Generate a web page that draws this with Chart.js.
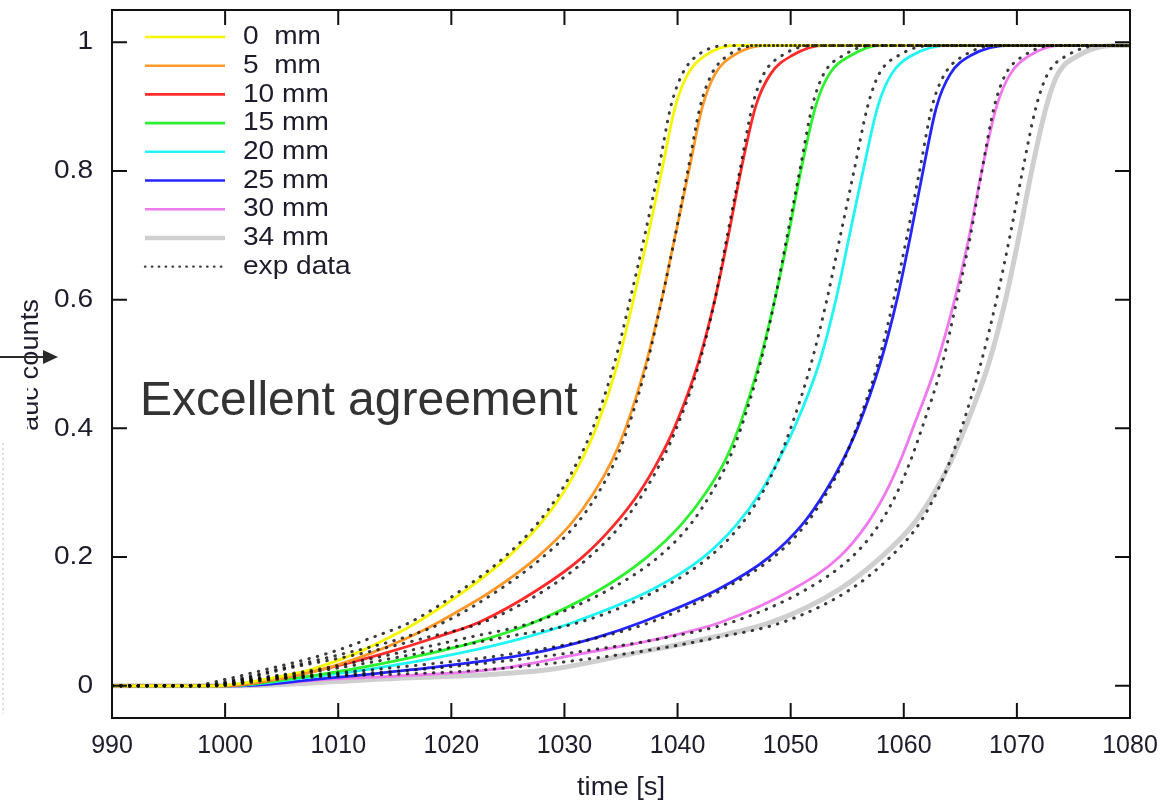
<!DOCTYPE html>
<html>
<head>
<meta charset="utf-8">
<script src="https://cdn.jsdelivr.net/npm/chart.js@4.4.0/dist/chart.umd.min.js"></script>
<style>
html,body{margin:0;padding:0;background:#fff;}
#wrap{width:1176px;height:804px;}
</style>
</head>
<body>
<div id="wrap"><canvas id="myChart" width="1176" height="804"></canvas></div>
<script>
// levels (auc counts) and the time [s] where each curve crosses them
const niveles = [0,0,0.01,0.025,0.05,0.075,0.1,0.15,0.2,0.25,0.3,0.35,0.4,0.5,0.6,0.7,0.8,0.9,0.95,0.98,0.995,0.995]

const etiquetas = ['0  mm','5  mm','10 mm','15 mm','20 mm','25 mm','30 mm','34 mm']
const colores   = ['#f6f600','#ff9a2a','#ff2b2b','#2ef02e','#22f4f4','#2424ff','#ee7aee','#cfcfcf']

// model curves
const t0  = [990, 999,  1003.5,1007.5,1011.5,1014.5,1017.1,1021.4,1025.0,1027.8,1029.9,1031.5,1032.8,1034.7,1036.1,1037.4,1038.6,1039.8,1040.9,1042.5,1045.3,1080]
const t5  = [990, 999.5,1004.5,1008.5,1012.8,1016.2,1019.0,1023.8,1027.6,1030.5,1032.6,1034.2,1035.4,1037.2,1038.6,1039.8,1041.0,1042.2,1043.3,1045.0,1048.0,1080]
const t10 = [990,1000,  1004.5,1008.5,1014,  1018.6,1022.6,1027.7,1031.6,1034.4,1036.6,1038.3,1039.7,1041.8,1043.3,1044.5,1045.6,1046.9,1048.2,1050.2,1053.0,1080]
const t15 = [990,1000,  1005.5,1011,  1018,  1023.5,1027.5,1033.2,1037.3,1040.3,1042.5,1044.2,1045.4,1047.2,1048.6,1049.8,1050.9,1052.2,1053.4,1055.4,1058.0,1080]
const t20 = [990,1000.5,1006,  1012.5,1020.5,1026.5,1031.0,1037.8,1042.3,1045.2,1047.3,1048.9,1050.3,1052.5,1054.0,1055.2,1056.4,1057.7,1058.9,1060.8,1064.0,1080]
const t25 = [990,1001,  1008,  1016.5,1027.0,1032.8,1037.0,1043.6,1048.1,1051.0,1053.0,1054.6,1055.9,1057.9,1059.4,1060.6,1061.7,1062.9,1064.1,1066.0,1069.5,1080]
const t30 = [990,1001,  1009,  1023.5,1031.5,1038.8,1044.0,1050.2,1054.3,1056.7,1058.4,1059.7,1060.8,1062.9,1064.5,1065.8,1066.9,1068.2,1069.4,1071.2,1074.0,1080]
const t34 = [990,1001,  1013,  1028.5,1036.0,1043.0,1048.5,1054.3,1058.0,1060.8,1062.7,1064.2,1065.4,1067.5,1069.0,1070.2,1071.3,1072.6,1073.6,1075.5,1078.5,1080]

// measured (exp data)
const e0  = [990, 997,  1000,  1003.5,1009,  1013,  1016.5,1021.0,1024.7,1027.5,1029.6,1031.2,1032.5,1034.4,1035.8,1037.1,1038.3,1039.4,1040.4,1041.8,1044.5,1080]
const e5  = [990, 997.5,1001,  1004.5,1010.5,1015.8,1019.5,1024.3,1028.1,1031.0,1033.0,1034.5,1035.6,1037.3,1038.6,1039.8,1040.9,1042.0,1043.0,1044.5,1047.2,1080]
const e10 = [990, 998,  1001.5,1005,  1012,  1017.8,1023.0,1028.4,1032.2,1035.0,1037.0,1038.6,1039.9,1041.9,1043.3,1044.4,1045.5,1046.6,1047.6,1049.3,1052.0,1080]
const e15 = [990, 998,  1002,  1008,  1015,  1021.5,1027.5,1034.0,1038.3,1041.1,1043.0,1044.5,1045.6,1047.3,1048.6,1049.7,1050.8,1051.9,1052.9,1054.7,1057.2,1080]
const e20 = [990, 998.5,1002.5,1009,  1017,  1024.5,1031.6,1038.4,1042.8,1045.6,1047.5,1048.9,1050.0,1051.8,1053.2,1054.4,1055.6,1056.8,1057.8,1059.6,1062.5,1080]
const e25 = [990, 998.5,1003,  1013,  1025.5,1033,  1037.8,1044.0,1048.5,1051.3,1053.2,1054.7,1055.8,1057.7,1059.1,1060.3,1061.4,1062.5,1063.6,1065.4,1068.2,1080]
const e30 = [990, 999,  1003.5,1017,  1030,  1039,  1045.0,1051.4,1055.4,1057.8,1059.4,1060.6,1061.6,1063.4,1064.7,1065.9,1066.9,1068.0,1069.0,1070.7,1073.2,1080]
const e34 = [990, 999,  1004.5,1023,  1035.5,1043.5,1049.5,1055.3,1058.8,1061.3,1062.9,1064.1,1065.1,1066.8,1068.2,1069.4,1070.5,1071.7,1072.7,1074.5,1077.5,1080]

const xTicks = [990,1000,1010,1020,1030,1040,1050,1060,1070,1080]
const yTicks = [0,0.2,0.4,0.6,0.8,1]
const yTickLabels = ['0','0.2','0.4','0.6','0.8','1']

const modelos = [t0,t5,t10,t15,t20,t25,t30,t34]
const medidos = [e0,e5,e10,e15,e20,e25,e30,e34]

const puntos = (ts) => niveles.map((v,i) => ({x:ts[i], y:v}))

let datasets = []
modelos.forEach((ts,i)=>{
    datasets.push({label:etiquetas[i], data:puntos(ts), borderColor:colores[i],
        borderWidth: i==7 ? 5 : 2.8, pointRadius:0, cubicInterpolationMode:'monotone', order:2})
})
medidos.forEach((ts,i)=>{
    datasets.push({label:'exp data', data:puntos(ts), borderColor:'rgba(10,10,10,0.8)', borderWidth:3,
        borderDash:[0.5,8.2], borderCapStyle:'round', pointRadius:0, cubicInterpolationMode:'monotone', order:1})
})

const tinta = '#1c1c2a'

function texto(ctx, s, x, y, size, align, sx){
    ctx.save()
    ctx.translate(x,y)
    ctx.scale(sx,1)
    ctx.font = size+'px "Liberation Sans", Arial, sans-serif'
    ctx.textAlign = align
    ctx.textBaseline = 'middle'
    ctx.fillStyle = tinta
    ctx.fillText(s,0,0)
    ctx.restore()
}

// frame, inward ticks, labels, legend and notes
const marco = {
    id:'marco',
    afterDraw(chart){
        const ctx = chart.ctx
        const a = chart.chartArea
        const sx = chart.scales.x, sy = chart.scales.y
        ctx.save()
        ctx.strokeStyle = '#111'
        ctx.lineWidth = 2
        ctx.strokeRect(a.left, a.top, a.right-a.left, a.bottom-a.top)
        ctx.beginPath()
        xTicks.forEach(v=>{
            const x = sx.getPixelForValue(v)
            ctx.moveTo(x,a.bottom); ctx.lineTo(x,a.bottom-15)
            ctx.moveTo(x,a.top);    ctx.lineTo(x,a.top+15)
        })
        yTicks.forEach(v=>{
            const y = sy.getPixelForValue(v)
            ctx.moveTo(a.left,y);  ctx.lineTo(a.left+15,y)
            ctx.moveTo(a.right,y); ctx.lineTo(a.right-15,y)
        })
        ctx.stroke()
        ctx.restore()

        xTicks.forEach(v=> texto(ctx, String(v), sx.getPixelForValue(v), 746, 25, 'center', 1.0))
        yTicks.forEach((v,i)=> texto(ctx, yTickLabels[i], 93, sy.getPixelForValue(v), 26, 'right', 1.08))
        texto(ctx, 'time [s]', (a.left+a.right)/2, 788, 26, 'center', 1.05)

        // y title, lower part hidden
        ctx.save()
        ctx.beginPath()
        ctx.rect(0,0,200,378)
        ctx.rect(27,378,173,200)
        ctx.clip()
        ctx.translate(31,365)
        ctx.rotate(-Math.PI/2)
        texto(ctx, 'auc counts', 0, 0, 26, 'center', 1.05)
        ctx.restore()

        // faint dotted line at the left border
        ctx.save()
        ctx.strokeStyle = 'rgba(150,150,150,0.45)'
        ctx.lineWidth = 1.5
        ctx.setLineDash([2,3])
        ctx.beginPath(); ctx.moveTo(3,443); ctx.lineTo(3,714); ctx.stroke()
        ctx.restore()

        // arrow
        ctx.save()
        ctx.strokeStyle = '#2a2a2a'; ctx.fillStyle = '#2a2a2a'
        ctx.lineWidth = 2.2
        ctx.beginPath(); ctx.moveTo(0,357); ctx.lineTo(46,357); ctx.stroke()
        ctx.beginPath(); ctx.moveTo(58,357); ctx.lineTo(43,350); ctx.lineTo(43,364); ctx.closePath(); ctx.fill()
        ctx.restore()

        // note
        ctx.save()
        ctx.font = '48px "Liberation Sans", Arial, sans-serif'
        ctx.fillStyle = '#333'
        ctx.textBaseline = 'alphabetic'
        ctx.fillText('Excellent agreement', 140, 415)
        ctx.restore()

        // legend
        const ds = chart.data.datasets
        const filas = ds.slice(0,8).concat([ds[8]])
        filas.forEach((d,i)=>{
            const y = 37 + i*28.7
            ctx.save()
            ctx.strokeStyle = d.borderColor
            ctx.lineWidth = i==7 ? 4.5 : (i==8 ? 2.4 : 2.6)
            if(i==8){ ctx.setLineDash([0.4,6.5]); ctx.lineCap = 'round' }
            ctx.beginPath(); ctx.moveTo(145,y); ctx.lineTo(225,y); ctx.stroke()
            ctx.restore()
            texto(ctx, d.label, 243, y, 26, 'left', 1.08)
        })
    }
}

const ctx = document.getElementById('myChart')
const myChart = new Chart(ctx,{
    type:'line',
    data:{datasets:datasets},
    options:{
        responsive:false,
        animation:false,
        layout:{padding:{left:112,right:46,top:10,bottom:86}},
        plugins:{legend:{display:false},tooltip:{enabled:false}},
        scales:{
            x:{type:'linear',min:990,max:1080,display:false},
            y:{type:'linear',min:-0.05,max:1.05,display:false}
        }
    },
    plugins:[marco]
})
</script>
</body>
</html>
